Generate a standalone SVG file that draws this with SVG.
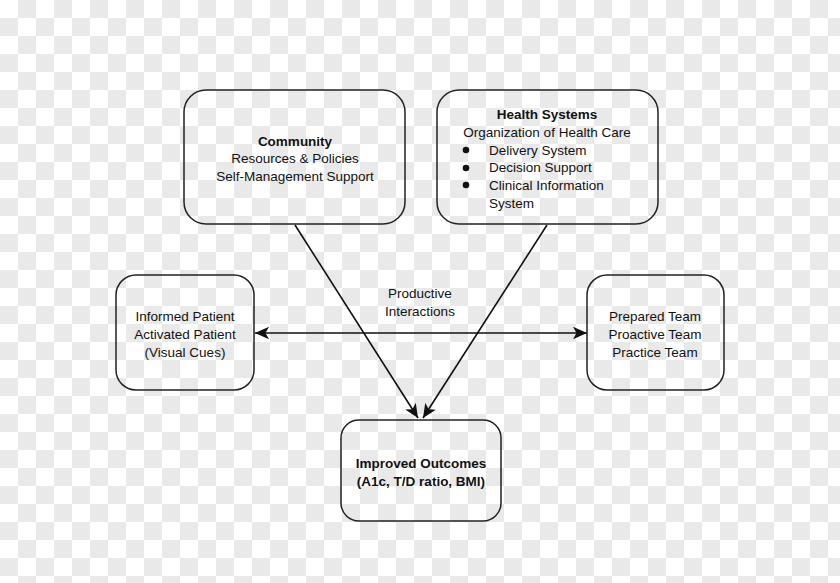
<svg xmlns="http://www.w3.org/2000/svg" width="840" height="583" viewBox="0 0 840 583">
<defs>
<pattern id="checker" x="0" y="0" width="36" height="36" patternUnits="userSpaceOnUse">
<rect x="0" y="0" width="36" height="36" fill="#ffffff"/>
<rect x="18" y="0" width="18" height="18" fill="#e9e9e9"/>
<rect x="0" y="18" width="18" height="18" fill="#e9e9e9"/>
</pattern>
<marker id="arr2" viewBox="0 0 10 10" refX="10" refY="5" markerWidth="14" markerHeight="14" markerUnits="userSpaceOnUse" orient="auto-start-reverse">
<path d="M0,0.5 L10,5 L0,9.5 L2.5,5 Z" fill="#111"/>
</marker>
</defs>
<style>
.box{fill:none;stroke:#222;stroke-width:1.5}
.t{font-family:"Liberation Sans",Arial,sans-serif;font-size:13.5px;fill:#111;text-anchor:middle}
.tl{font-family:"Liberation Sans",Arial,sans-serif;font-size:13.5px;fill:#111}
.b{font-weight:bold}
.conn{stroke:#111;stroke-width:1.6;fill:none}
</style>
<rect width="840" height="583" fill="url(#checker)"/>
<g id="connectors">
<line class="conn" x1="295" y1="225" x2="418" y2="418" marker-end="url(#arr2)"/>
<line class="conn" x1="547" y1="225" x2="423" y2="418" marker-end="url(#arr2)"/>
<line class="conn" x1="255" y1="333" x2="587" y2="333" marker-start="url(#arr2)" marker-end="url(#arr2)"/>
<text class="t" x="420" y="298">Productive</text>
<text class="t" x="420" y="316">Interactions</text>
</g>
<g id="community">
<rect class="box" x="184" y="90" width="221" height="134" rx="22"/>
<text class="t b" x="295" y="146">Community</text>
<text class="t" x="295" y="163">Resources &amp; Policies</text>
<text class="t" x="295" y="181">Self-Management Support</text>
</g>
<g id="health-systems">
<rect class="box" x="437" y="90" width="221" height="134" rx="22"/>
<text class="t b" x="547" y="119">Health Systems</text>
<text class="t" x="547" y="137">Organization of Health Care</text>
<circle cx="466" cy="150" r="3.3" fill="#111"/>
<circle cx="466" cy="168" r="3.3" fill="#111"/>
<circle cx="466" cy="185" r="3.3" fill="#111"/>
<text class="tl" x="489" y="155">Delivery System</text>
<text class="tl" x="489" y="172">Decision Support</text>
<text class="tl" x="489" y="190">Clinical Information</text>
<text class="tl" x="489" y="208">System</text>
</g>
<g id="patient">
<rect class="box" x="116" y="275" width="138" height="115" rx="20"/>
<text class="t" x="185" y="321">Informed Patient</text>
<text class="t" x="185" y="339">Activated Patient</text>
<text class="t" x="185" y="357">(Visual Cues)</text>
</g>
<g id="team">
<rect class="box" x="587" y="275" width="137" height="115" rx="20"/>
<text class="t" x="655" y="321">Prepared Team</text>
<text class="t" x="655" y="339">Proactive Team</text>
<text class="t" x="655" y="357">Practice Team</text>
</g>
<g id="outcomes">
<rect class="box" x="341" y="420" width="160" height="101" rx="18"/>
<text class="t b" x="421" y="468">Improved Outcomes</text>
<text class="t b" x="421" y="486">(A1c, T/D ratio, BMI)</text>
</g>
</svg>
